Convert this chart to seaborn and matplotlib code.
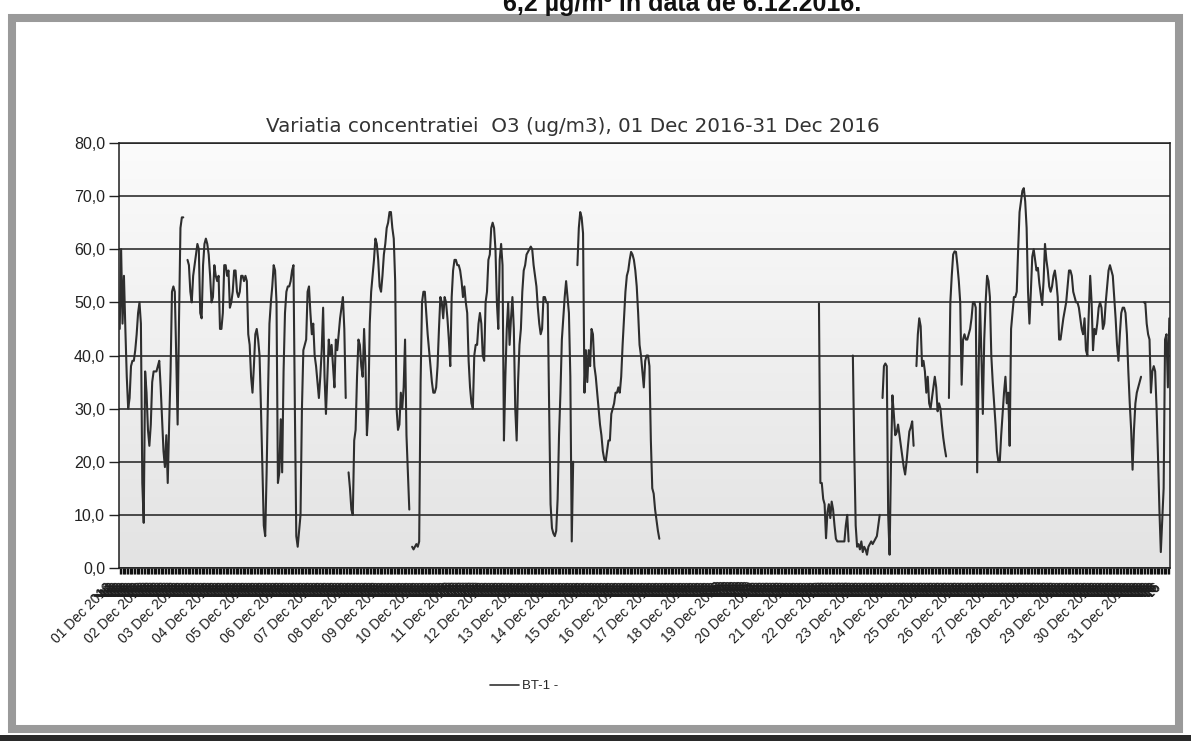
import numpy as np
import pandas as pd
import matplotlib
matplotlib.use("Agg")
import matplotlib.pyplot as plt
import seaborn as sns
from matplotlib.lines import Line2D
from matplotlib.patches import Rectangle
from matplotlib.transforms import Bbox, TransformedBbox, offset_copy
from matplotlib.ticker import FuncFormatter

nan = np.nan

# ---- data: hourly O3 concentration (ug/m3), one list of 24 values per day ----
dec01 = [45, 60, 46, 55, 45, 36, 30, 32, 38, 39, 39, 41, 44, 48, 50, 46, 16, 8.5, 37, 33, 26, 23, 27, 35]
dec02 = [37, 37, 37, 38, 39, 34, 28, 22, 19, 25, 16, 27, 37, 52, 53, 52, 40, 27, 47, 64, 66, 66, nan, nan]
dec03 = [58, 57, 52, 50, 55, 57, 59, 61, 60, 48, 47, 57, 61, 62, 61, 59, 55, 50, 51, 57, 55, 54, 55, 45]
dec04 = [45, 48, 57, 57, 55, 56, 49, 50, 52, 56, 56, 52, 51, 52, 55, 55, 54, 55, 54, 44, 42, 36, 33, 38]
dec05 = [44, 45, 43, 40, 30, 19, 8, 6, 18, 33, 46, 50, 53, 57, 56, 50, 16, 18, 28, 18, 37, 48, 52, 53]
dec06 = [53, 54, 56, 57, 30, 6, 4, 7, 10, 30, 41, 42, 43, 52, 53, 48, 44, 46, 40, 38, 35, 32, 36, 41]
dec07 = [49, 36, 29, 36, 43, 40, 42, 38, 34, 43, 41, 44, 47, 49, 51, 45, 32, nan, 18, 15, 11, 10, 24, 26]
dec08 = [36, 43, 42, 38, 36, 45, 38, 25, 30, 46, 52, 55, 58, 62, 61, 58, 53, 52, 55, 59, 61, 64, 65, 67]
dec09 = [67, 64, 62, 54, 30, 26, 27, 33, 30, 34, 43, 25, 18, 11, nan, 4, 3.5, 4, 4.5, 4, 5, 35, 50, 52]
dec10 = [52, 48, 44, 41, 38, 35, 33, 33, 34, 38, 45, 51, 50, 47, 51, 50, 47, 43, 38, 51, 56, 58, 58, 57]
dec11 = [57, 56, 54, 51, 53, 50, 48, 39, 34, 31, 30, 40, 42, 42, 46, 48, 46, 40, 39, 50, 52, 58, 59, 64]
dec12 = [65, 64, 60, 50, 45, 58, 61, 57, 24, 36, 45, 50, 42, 47, 51, 45, 30, 24, 35, 42, 45, 52, 56, 57]
dec13 = [59, 59.5, 60, 60.5, 60, 57, 55, 53, 49, 46, 44, 45, 51, 51, 50, 50, 30, 12, 7.5, 6.5, 6, 7, 13, 25]
dec14 = [33, 43, 47, 51, 54, 51, 48, 36, 5, 20, nan, nan, 57, 64, 67, 66, 63, 33, 41, 35, 41, 38, 45, 44]
dec15 = [38, 36, 33, 30, 27, 25, 22, 20.5, 20, 22, 24, 24, 29, 30, 31, 33, 33, 34, 33, 36, 42, 47, 52, 55]
dec16 = [56, 58, 59.5, 59, 58, 56, 53, 48, 42, 40, 37, 34, 39, 40, 40, 38, 24, 15, 14, 11, 9, 7, 5.5, nan]
dec17 = [nan] * 24
dec18 = [nan] * 24
dec19 = [nan] * 24
dec20 = [nan] * 24
dec21 = [nan] * 15 + [49.8, 16, 16, 13, 12, 5.6, 10.5, 12, 9.4]
dec22 = [12.5, 11, 8, 5.5, 5, 5, 5, 5, 5, 5, 8, 10, 5, nan, nan, 40, 22, 8, 4, 4.5, 3.5, 5, 3, 4]
dec23 = [3.5, 2.5, 4, 4.5, 5, 4.5, 5, 5.5, 6, 8, 10, nan, 32, 38, 38.5, 38, 10, 2.5, 20, 32.5, 29, 25, 25.5, 27]
dec24 = [25, 23, 21, 19, 17.6, 20, 23, 25.7, 26.5, 27.6, 23, nan, 38, 44, 47, 45.5, 38, 39, 37, 33, 36, 31, 30, 32]
dec25 = [34, 36, 34, 29.5, 31, 30, 27, 24.5, 22.6, 21, nan, 32, 50, 55, 59, 59.6, 59.5, 57, 54, 50, 34.5, 43, 44, 43]
dec26 = [43, 44, 45, 47, 50, 50, 49, 18, 37, 50, 40, 29, 43, 50, 55, 54, 51, 40, 35, 31, 27, 22, 20, 20]
dec27 = [25, 29, 33, 36, 31, 33, 23, 45, 48, 51, 51, 52, 60, 67, 69, 71, 71.5, 69, 64, 52, 46, 52, 58.6, 60]
dec28 = [58, 56, 56.5, 53.6, 51.5, 49.5, 54, 61, 58, 56, 53, 52, 53, 55, 56, 54, 51, 43, 43, 45, 47, 48.5, 50, 53]
dec29 = [56, 56, 55, 52, 51, 50, 50, 49, 47, 45, 44, 47, 41, 40, 48, 55, 50, 41, 45, 44, 46, 49, 50, 49]
dec30 = [45, 46, 50, 53, 56, 57, 56, 55, 51, 47, 42, 39, 44, 48, 49, 49, 48, 44, 37, 31, 26, 18.5, 26, 31]
dec31 = [33, 34, 35, 36, nan, 50, 50, 46, 44, 43, 33, 37, 38, 37, 30, 21, 11, 3, 9, 15, 43, 44, 34, 47]

days = [dec01, dec02, dec03, dec04, dec05, dec06, dec07, dec08, dec09, dec10,
        dec11, dec12, dec13, dec14, dec15, dec16, dec17, dec18, dec19, dec20,
        dec21, dec22, dec23, dec24, dec25, dec26, dec27, dec28, dec29, dec30, dec31]
day_labels = [f"{d:02d} Dec 2016" for d in range(1, 32)]
y_ticks = [0, 10, 20, 30, 40, 50, 60, 70, 80]
series_name = "BT-1 -"
chart_title = "Variatia concentratiei  O3 (ug/m3), 01 Dec 2016-31 Dec 2016"
page_text = "6,2 \u00b5g/m\u00b3 \u00een data de 6.12.2016."

# ---- build frame ----
values = np.concatenate([np.asarray(d, dtype=float) for d in days])
hours = np.arange(len(values))
segment = np.cumsum(np.isnan(values))
df = pd.DataFrame({"hour": hours, "o3": values, "seg": segment}).dropna()

sns.set_theme(style="white")
plt.rcParams["font.family"] = ["Liberation Sans", "DejaVu Sans"]

W, H = 1191, 741
fig = plt.figure(figsize=(W / 100, H / 100), dpi=100)
fig.patch.set_facecolor("white")

L, R, T, B = 119, 1170, 143, 568
ax = fig.add_axes([L / W, 1 - B / H, (R - L) / W, (B - T) / H])
ax.set_facecolor("none")

# plot-area gradient background
grad = np.linspace(0, 1, 256).reshape(-1, 1)
ax.imshow(grad, extent=[0, 1, 0, 1], transform=ax.transAxes, aspect="auto",
          cmap=matplotlib.colors.LinearSegmentedColormap.from_list("bg", ["#e3e3e3", "#fbfbfb"]),
          origin="lower", zorder=0)

sns.lineplot(data=df, x="hour", y="o3", units="seg", estimator=None,
             color="#2e2e2e", linewidth=1.5, ax=ax, legend=False, zorder=3)

ax.set_xlim(-0.5, len(values) - 0.5)
ax.set_ylim(y_ticks[0], y_ticks[-1])
ax.set_xlabel("")
ax.set_ylabel("")

ax.set_yticks(y_ticks)
ax.yaxis.set_major_formatter(FuncFormatter(lambda v, p: f"{v:.1f}".replace(".", ",")))
ax.grid(axis="y", color="#1e1e1e", linewidth=1.1, zorder=1)
ax.grid(axis="x", visible=False)
ax.tick_params(axis="y", direction="out", length=7, width=1.0, color="#222222",
               labelsize=11.5, labelcolor="#222222", pad=3, left=True)

ax.set_xticks(np.arange(0, len(values), 24))
ax.set_xticks(hours, minor=True)
ax.set_xticklabels([])
ax.tick_params(axis="x", which="both", direction="out", length=4, width=1.0,
               color="#111111", bottom=True)

for sp in ax.spines.values():
    sp.set_visible(True)
    sp.set_color("#1e1e1e")
    sp.set_linewidth(1.1)

# category labels (one per hour, rotated; they overlap into a dense band)
trans = offset_copy(ax.get_xaxis_transform(), fig=fig, x=-15, y=-12, units="dots")
band = TransformedBbox(Bbox.from_extents(0, 1 - 597 / H, 1, 1 - 580 / H), fig.transFigure)
for i in hours:
    lab = day_labels[i // 24]
    t = ax.text(i, 0, lab, transform=trans, rotation=45, ha="right", va="top",
                rotation_mode="anchor", fontsize=10, color="#1e1e1e", clip_on=False)
    if i % 24 != 0:
        t.set_clip_path(None)
        t.set_clip_on(True)
        t.set_clip_box(band)

# title
fig.text(573 / W, 1 - 126 / H, chart_title, ha="center", va="center",
         fontsize=14.3, family="DejaVu Sans", color="#333333")

# legend
handle = Line2D([], [], color="#333333", linewidth=1.2)
fig.legend([handle], [series_name], loc="center", bbox_to_anchor=(524 / W, 1 - 686 / H),
           frameon=False, fontsize=9.5, handlelength=2.2, handletextpad=0.2)

# scanned page frame
fig.add_artist(Rectangle((12 / W, 1 - 729 / H), (1179 - 12) / W, (729 - 18) / H,
                         transform=fig.transFigure, fill=False, edgecolor="#9a9a9a",
                         linewidth=5.8, zorder=0))
fig.add_artist(Rectangle((0, 0), 1, 6 / H, transform=fig.transFigure,
                         facecolor="#2a2a2a", edgecolor="none", zorder=0))
fig.text(503 / W, 1 - 11 / H, page_text, ha="left", va="baseline",
         fontsize=18, fontweight="bold", color="#111111")

fig.savefig("out.png", dpi=100)
